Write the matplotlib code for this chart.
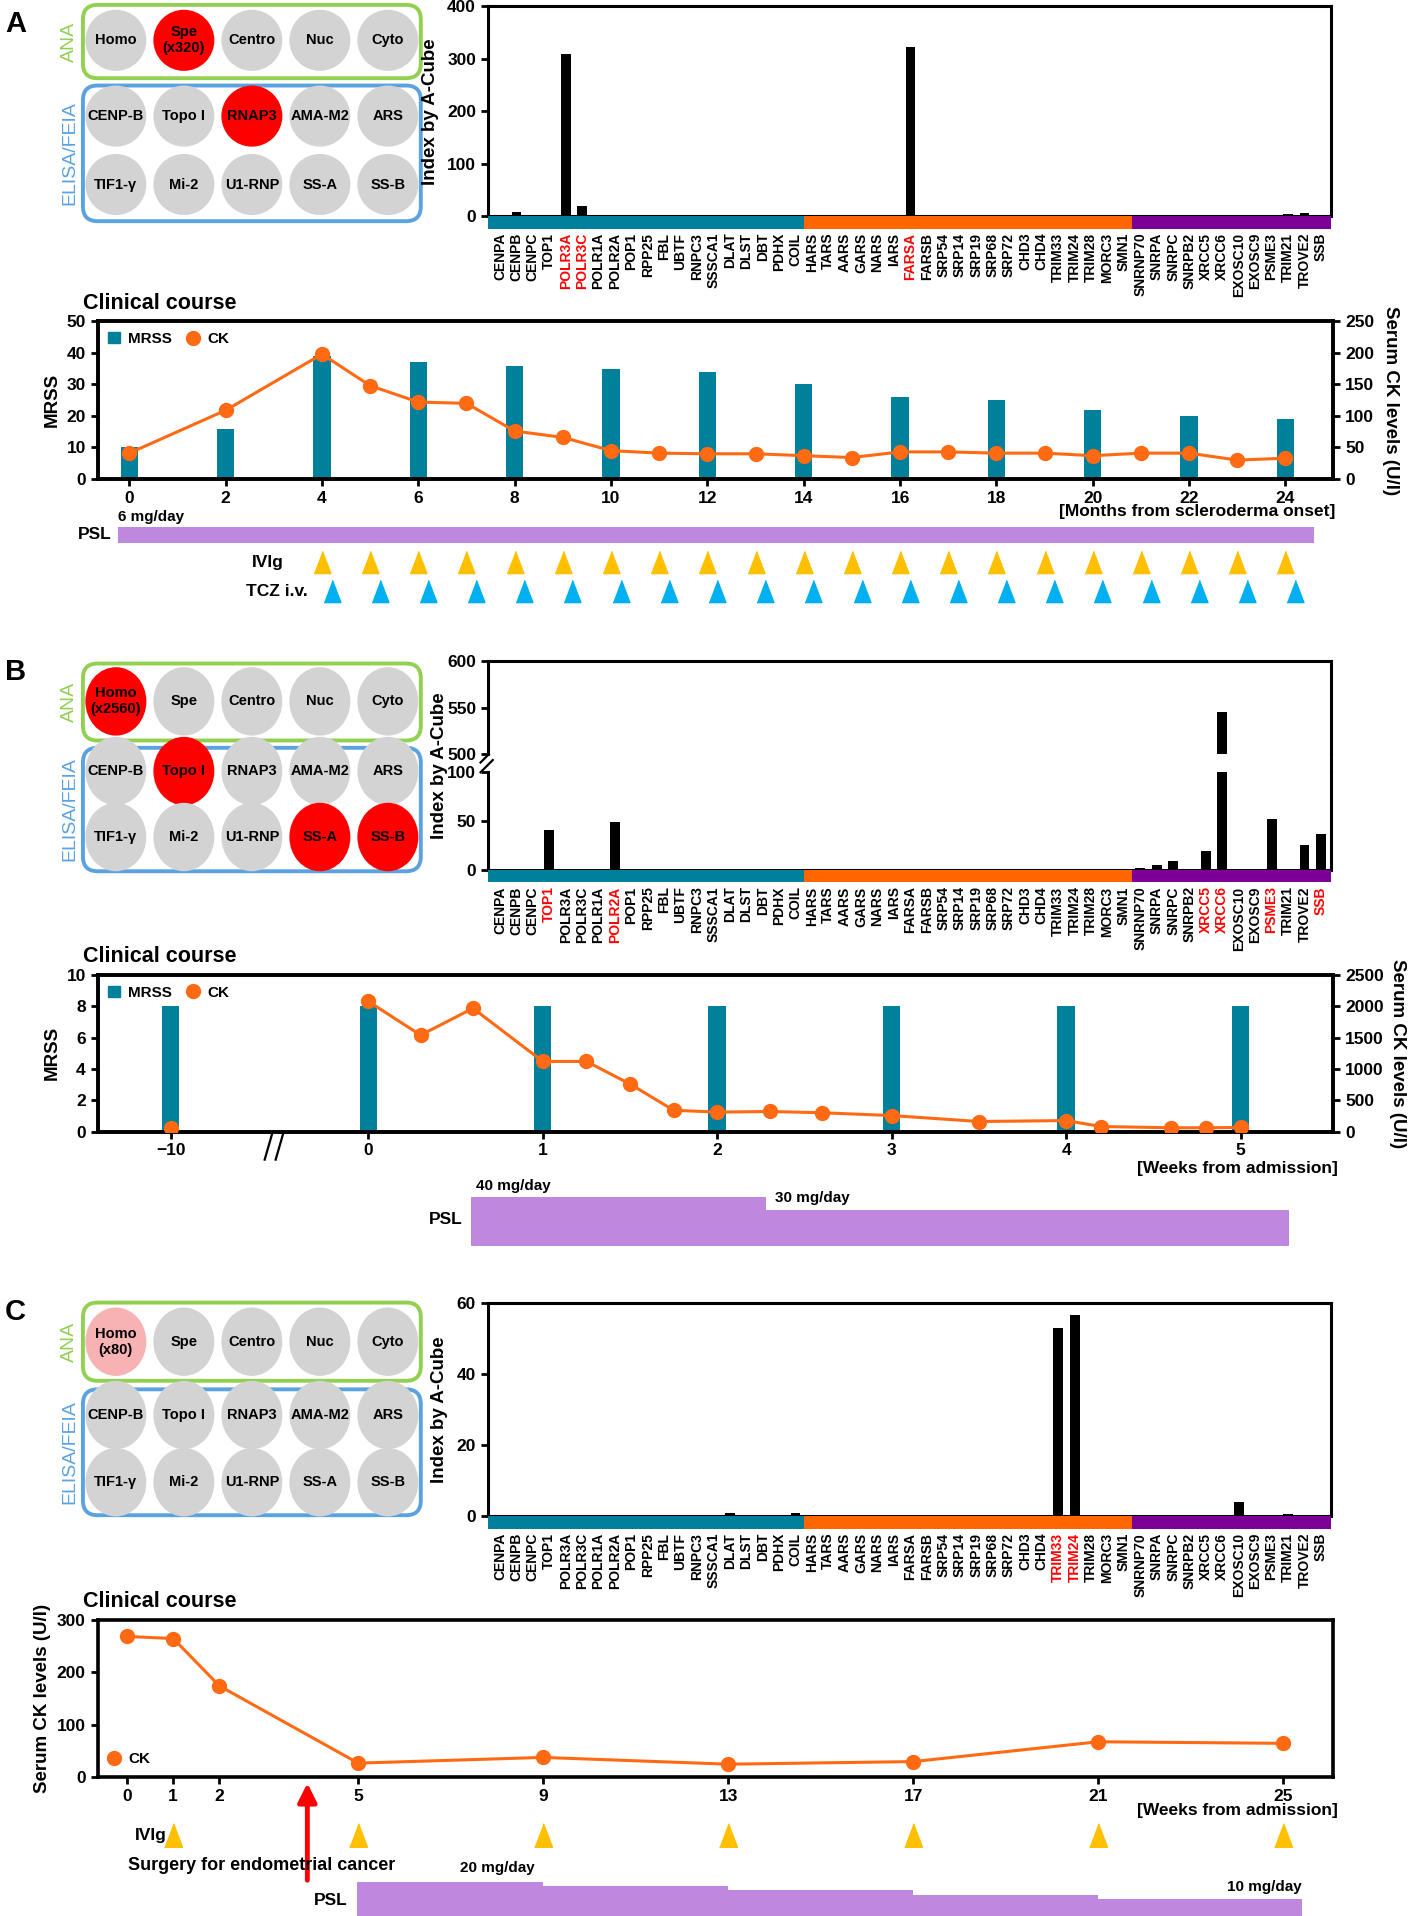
import numpy as np
import matplotlib.pyplot as plt
from matplotlib.patches import FancyBboxPatch, Ellipse, Patch
from matplotlib.lines import Line2D

plt.rcParams['font.family'] = ['Liberation Sans', 'DejaVu Sans']
plt.rcParams['font.weight'] = 'bold'
plt.rcParams['axes.labelweight'] = 'bold'

# ---------------- data ----------------
genes = ['CENPA', 'CENPB', 'CENPC', 'TOP1', 'POLR3A', 'POLR3C', 'POLR1A', 'POLR2A',
         'POP1', 'RPP25', 'FBL', 'UBTF', 'RNPC3', 'SSSCA1', 'DLAT', 'DLST', 'DBT',
         'PDHX', 'COIL', 'HARS', 'TARS', 'AARS', 'GARS', 'NARS', 'IARS', 'FARSA',
         'FARSB', 'SRP54', 'SRP14', 'SRP19', 'SRP68', 'SRP72', 'CHD3', 'CHD4',
         'TRIM33', 'TRIM24', 'TRIM28', 'MORC3', 'SMN1', 'SNRNP70', 'SNRPA', 'SNRPC',
         'SNRPB2', 'XRCC5', 'XRCC6', 'EXOSC10', 'EXOSC9', 'PSME3', 'TRIM21', 'TROVE2', 'SSB']
group_sizes = [19, 20, 12]

ana_names = ['Homo', 'Spe', 'Centro', 'Nuc', 'Cyto']
elisa_names = [['CENP-B', 'Topo I', 'RNAP3', 'AMA-M2', 'ARS'],
               ['TIF1-γ', 'Mi-2', 'U1-RNP', 'SS-A', 'SS-B']]

# panel A
a_ana_pos = {'Spe': 'x320'}
a_elisa_pos = ['RNAP3']
a_hit_genes = ['CENPB', 'POLR3A', 'POLR3C', 'FARSA', 'FARSB', 'TRIM21', 'TROVE2']
a_hit_index = [9, 308, 20, 322, 2.5, 4.4, 5.7]
a_red_genes = ['POLR3A', 'POLR3C', 'FARSA']
a_mrss_months = [0, 2, 4, 6, 8, 10, 12, 14, 16, 18, 20, 22, 24]
a_mrss = [10, 16, 39, 37, 36, 35, 34, 30, 26, 25, 22, 20, 19]
a_ck_months = [0, 2, 4, 5, 6, 7, 8, 9, 10, 11, 12, 13, 14, 15, 16, 17, 18, 19, 20, 21, 22, 23, 24]
a_ck = [41, 109, 198, 148, 122, 120, 76, 66, 45, 41, 40, 40, 37, 34, 43, 43, 41, 41, 37, 41, 41, 30, 33]
a_psl_edges = [-0.24, 24.6]
a_psl_dose = [6]
a_ivig = [4, 5, 6, 7, 8, 9, 10, 11, 12, 13, 14, 15, 16, 17, 18, 19, 20, 21, 22, 23, 24]
a_tcz = [4.2, 5.2, 6.2, 7.2, 8.2, 9.2, 10.2, 11.2, 12.2, 13.2, 14.2, 15.2, 16.2, 17.2,
         18.2, 19.2, 20.2, 21.2, 22.2, 23.2, 24.2]

# panel B
b_ana_pos = {'Homo': 'x2560'}
b_elisa_pos = ['Topo I', 'SS-A', 'SS-B']
b_hit_genes = ['TOP1', 'POLR2A', 'SNRNP70', 'SNRPA', 'SNRPC', 'XRCC5', 'XRCC6', 'PSME3', 'TROVE2', 'SSB']
b_hit_index = [41, 49, 2.5, 5, 9.5, 19, 545, 52, 26, 37]
b_red_genes = ['TOP1', 'POLR2A', 'XRCC5', 'XRCC6', 'PSME3', 'SSB']
b_mrss_weeks = [-10, 0, 1, 2, 3, 4, 5]
b_mrss = [8, 8, 8, 8, 8, 8, 8]
b_ck_pre_week = -10
b_ck_pre = 60
b_ck_weeks = [0, 0.3, 0.6, 1, 1.25, 1.5, 1.75, 2, 2.3, 2.6, 3, 3.5, 4, 4.2, 4.6, 4.8, 5]
b_ck = [2080, 1540, 1970, 1120, 1120, 760, 340, 310, 320, 300, 255, 160, 175, 80, 60, 60, 65]
b_psl_edges = [0.59, 2.28, 5.28]
b_psl_dose = [40, 30]

# panel C
c_ana_weak = {'Homo': 'x80'}
c_hit_genes = ['DLAT', 'COIL', 'FARSB', 'TRIM33', 'TRIM24', 'EXOSC10', 'TRIM21']
c_hit_index = [1.1, 1.0, 0.5, 53, 56.5, 4.0, 0.6]
c_red_genes = ['TRIM33', 'TRIM24']
c_ck_weeks = [0, 1, 2, 5, 9, 13, 17, 21, 25]
c_ck = [269, 265, 174, 26, 37, 24, 29, 67, 64]
c_ivig = [1, 5, 9, 13, 17, 21, 25]
c_surgery = 3.9
c_psl_edges = [4.97, 9, 13, 17, 21, 25.4]
c_psl_dose = [20, 17.8, 15, 12.4, 10]

# ---------------- style ----------------
TEAL = '#00809B'
STRIP = ['#00809B', '#FF6600', '#7A0096']
CK_COL = '#FF6A13'
PSL_COL = '#BF88DE'
IVIG_COL = '#FFC000'
TCZ_COL = '#00B0F0'
GREEN = '#92D050'
BLUE = '#5BA3E0'
GREY = '#D3D3D3'
TRI = [(-0.38, -0.5), (0.38, -0.5), (0, 0.5)]

W, H = 1156.0, 1568.0


def rect(x0, y0, x1, y1):
    return [x0 / W, 1 - y1 / H, (x1 - x0) / W, (y1 - y0) / H]


fig = plt.figure(figsize=(14.1, 19.16), dpi=100)
ov = fig.add_axes([0, 0, 1, 1])
ov.set_xlim(0, W)
ov.set_ylim(H, 0)
ov.axis('off')


def antibody_panel(ana_box, elisa_box, rows_y, ry, ana_marks, elisa_pos, weak=False):
    x0, x1 = 68, 345
    for (t, b), col in [(ana_box, GREEN), (elisa_box, BLUE)]:
        ov.add_patch(FancyBboxPatch((x0, t), x1 - x0, b - t,
                                    boxstyle='round,pad=0,rounding_size=12',
                                    fc='none', ec=col, lw=2.8))
    ov.text(57, sum(ana_box) / 2, 'ANA', color=GREEN, rotation=90, fontsize=14,
            ha='center', va='center', fontweight='normal')
    ov.text(57, sum(elisa_box) / 2, 'ELISA/FEIA', color=BLUE, rotation=90, fontsize=14,
            ha='center', va='center', fontweight='normal')
    cols_x = np.linspace(x0 + 27, x1 - 27, 5)
    rows = [ana_names] + elisa_names
    for r, names in enumerate(rows):
        for c, nm in enumerate(names):
            fc = GREY
            label = nm
            if r == 0 and nm in ana_marks:
                fc = '#F7B3B3' if weak else '#FF0000'
                label = nm + '\n(' + ana_marks[nm] + ')'
            if r > 0 and nm in elisa_pos:
                fc = '#FF0000'
            ov.add_patch(Ellipse((cols_x[c], rows_y[r]), 50, 2 * ry, fc=fc, ec='none'))
            ov.text(cols_x[c], rows_y[r], label, ha='center', va='center', fontsize=10.5,
                    linespacing=1.2)


def gene_strip(top, bot):
    s = fig.add_axes(rect(400, top, 1091, bot))
    edges = np.concatenate([[-0.74], np.cumsum(group_sizes)[:-1] - 0.5, [50.6]])
    for i, col in enumerate(STRIP):
        s.axvspan(edges[i], edges[i + 1], color=col, lw=0)
    s.set_xlim(-0.74, 50.6)
    s.set_ylim(0, 1)
    s.set_yticks([])
    s.set_xticks(range(len(genes)))
    for sp in s.spines.values():
        sp.set_visible(False)
    s.tick_params(axis='x', length=0, pad=3)
    return s


def label_genes(s, red):
    s.set_xticklabels(genes, rotation=90, fontsize=10)
    for t in s.get_xticklabels():
        if t.get_text() in red:
            t.set_color('#FF0000')


def index_vector(hit_genes, hit_vals):
    v = np.zeros(len(genes))
    for g, val in zip(hit_genes, hit_vals):
        v[genes.index(g)] = val
    return v


def style_bar_axes(ax):
    for sp in ax.spines.values():
        sp.set_linewidth(2.2)
    ax.set_xlim(-0.74, 50.6)
    ax.set_xticks([])
    ax.tick_params(axis='y', labelsize=12.5, width=2, length=5)


def style_clin(ax):
    for sp in ax.spines.values():
        sp.set_linewidth(2.6)
    ax.tick_params(labelsize=12.5, width=2, length=5)


def row_axes(y0, y1, xlim, ylim):
    r = fig.add_axes(rect(80, y0, 1093, y1))
    r.set_xlim(*xlim)
    r.set_ylim(*ylim)
    r.axis('off')
    return r


def ck_legend(ax, with_mrss=True, loc='upper left'):
    handles = [Line2D([], [], marker='o', color=CK_COL, ls='none', ms=10, label='CK')]
    if with_mrss:
        handles = [Patch(color=TEAL, label='MRSS')] + handles
    ax.legend(handles=handles, loc=loc, ncol=2, frameon=False, fontsize=11,
              handlelength=0.8, handletextpad=0.5, columnspacing=1.0, borderaxespad=0.3)


# ================= Panel A =================
ov.text(4, 20, 'A', fontsize=21, ha='left', va='center')
antibody_panel((4, 64), (70, 181), [33, 95, 151], 25, a_ana_pos, a_elisa_pos)

ax = fig.add_axes(rect(400, 5, 1091, 177))
ax.bar(np.arange(len(genes)), index_vector(a_hit_genes, a_hit_index), width=0.6, color='black')
ax.set_ylim(0, 400)
ax.set_yticks([0, 100, 200, 300, 400])
style_bar_axes(ax)
ax.set_ylabel('Index by A-Cube', fontsize=13.5, labelpad=6)
s = gene_strip(177, 187)
label_genes(s, a_red_genes)

fig.text(68 / W, 1 - 248 / H, 'Clinical course', fontsize=15.5, va='center')
xlim_a = (-0.658, 24.99)
axa = fig.add_axes(rect(80, 263, 1093, 392))
axa.bar(a_mrss_months, a_mrss, width=0.36, color=TEAL, zorder=2)
axa.set_xlim(*xlim_a)
axa.set_ylim(0, 50)
axa.set_yticks(range(0, 51, 10))
axa.set_xticks(range(0, 25, 2))
axa.set_ylabel('MRSS', fontsize=13.5, labelpad=4)
style_clin(axa)
axa2 = axa.twinx()
axa2.plot(a_ck_months, a_ck, '-o', color=CK_COL, ms=10, lw=2.2, zorder=3)
axa2.set_ylim(0, 250)
axa2.set_yticks(range(0, 251, 50))
axa2.set_ylabel('Serum CK levels (U/l)', fontsize=13.5, rotation=270, va='bottom', labelpad=6)
style_clin(axa2)
ck_legend(axa2)
fig.text(1095 / W, 1 - 419 / H, '[Months from scleroderma onset]', fontsize=12.5,
         ha='right', va='center')

rp = row_axes(418, 444, xlim_a, (0, 12))
rp.fill_between(a_psl_edges, a_psl_dose * 2, step='post', color=PSL_COL, lw=0)
rp.text(a_psl_edges[0], 7, '6 mg/day', fontsize=11, ha='left', va='bottom')
rp.text(a_psl_edges[0] - 0.12, 3, 'PSL', fontsize=12.5, ha='right', va='center')
rt = row_axes(448, 496, xlim_a, (-0.5, 1.5))
rt.plot(a_ivig, [1] * len(a_ivig), ls='none', marker=TRI, ms=16, color=IVIG_COL)
rt.plot(a_tcz, [0] * len(a_tcz), ls='none', marker=TRI, ms=16, color=TCZ_COL)
rt.text(3.2, 1, 'IVIg', fontsize=12.5, ha='right', va='center')
rt.text(3.7, 0, 'TCZ i.v.', fontsize=12.5, ha='right', va='center')

# ================= Panel B =================
ov.text(4, 550, 'B', fontsize=21, ha='left', va='center')
antibody_panel((543, 606), (612, 713), [574, 631, 685], 28, b_ana_pos, b_elisa_pos)

b_vals = index_vector(b_hit_genes, b_hit_index)
bu = fig.add_axes(rect(400, 541, 1091, 617))
bu.bar(np.arange(len(genes)), b_vals, width=0.6, color='black')
bu.set_ylim(500, 600)
bu.set_yticks([500, 550, 600])
style_bar_axes(bu)
bu.spines['bottom'].set_visible(False)
bl = fig.add_axes(rect(400, 632, 1091, 712))
bl.bar(np.arange(len(genes)), b_vals, width=0.6, color='black')
bl.set_ylim(0, 100)
bl.set_yticks([0, 50, 100])
style_bar_axes(bl)
bl.spines['top'].set_visible(False)
ov.plot([1091, 1091], [617, 632], color='black', lw=2.2)
ov.plot([394, 404], [624, 614], color='black', lw=1.6)
ov.plot([394, 404], [632, 622], color='black', lw=1.6)
ov.text(360, 627, 'Index by A-Cube', fontsize=13.5, rotation=90, ha='center', va='center')
s = gene_strip(712, 722)
label_genes(s, b_red_genes)

fig.text(68 / W, 1 - 783 / H, 'Clinical course', fontsize=15.5, va='center')
xlim_b = (-1.552, 5.531)
b_break_pos = -1.133


def b_pos(w):
    return w if w >= 0 else b_break_pos


axb = fig.add_axes(rect(80, 798, 1093, 926))
axb.bar([b_pos(w) for w in b_mrss_weeks], b_mrss, width=0.1, color=TEAL, zorder=2)
axb.set_xlim(*xlim_b)
axb.set_ylim(0, 10)
axb.set_yticks(range(0, 11, 2))
axb.set_xticks([b_pos(w) for w in [-10, 0, 1, 2, 3, 4, 5]])
axb.set_xticklabels(['\u221210', '0', '1', '2', '3', '4', '5'])
axb.set_ylabel('MRSS', fontsize=13.5, labelpad=4)
style_clin(axb)
axb2 = axb.twinx()
axb2.plot([b_pos(b_ck_pre_week)], [b_ck_pre], 'o', color=CK_COL, ms=10, zorder=3)
axb2.plot(b_ck_weeks, b_ck, '-o', color=CK_COL, ms=10, lw=2.2, zorder=3)
axb2.set_ylim(0, 2500)
axb2.set_yticks(range(0, 2501, 500))
axb2.set_ylabel('Serum CK levels (U/l)', fontsize=13.5, rotation=270, va='bottom', labelpad=4)
style_clin(axb2)
ck_legend(axb2)
ov.plot([217, 228], [949, 911], color='black', lw=1.6)
ov.plot([226, 237], [949, 911], color='black', lw=1.6)
fig.text(1097 / W, 1 - 956 / H, '[Weeks from admission]', fontsize=12.5, ha='right', va='center')

rb = row_axes(960, 1020, xlim_b, (0, 60))
rb.fill_between(b_psl_edges, b_psl_dose + [b_psl_dose[-1]], step='post', color=PSL_COL, lw=0)
rb.text(b_psl_edges[0] + 0.03, b_psl_dose[0] + 4, '40 mg/day', fontsize=11, ha='left', va='bottom')
rb.text(b_psl_edges[1] + 0.05, b_psl_dose[1] + 4, '30 mg/day', fontsize=11, ha='left', va='bottom')
rb.text(b_psl_edges[0] - 0.05, 22, 'PSL', fontsize=12.5, ha='right', va='center')

# ================= Panel C =================
ov.text(4, 1074, 'C', fontsize=21, ha='left', va='center')
antibody_panel((1066, 1130), (1137, 1240), [1098, 1158, 1213], 28, c_ana_weak, [], weak=True)

ax = fig.add_axes(rect(400, 1066, 1091, 1241))
ax.bar(np.arange(len(genes)), index_vector(c_hit_genes, c_hit_index), width=0.6, color='black')
ax.set_ylim(0, 60)
ax.set_yticks([0, 20, 40, 60])
style_bar_axes(ax)
ax.set_ylabel('Index by A-Cube', fontsize=13.5, labelpad=6)
s = gene_strip(1241, 1251)
label_genes(s, c_red_genes)

fig.text(68 / W, 1 - 1311 / H, 'Clinical course', fontsize=15.5, va='center')
xlim_c = (-0.636, 26.08)
axc = fig.add_axes(rect(80, 1326, 1093, 1454))
axc.plot(c_ck_weeks, c_ck, '-o', color=CK_COL, ms=10, lw=2.2)
axc.set_xlim(*xlim_c)
axc.set_ylim(0, 300)
axc.set_yticks([0, 100, 200, 300])
axc.set_xticks(c_ck_weeks)
axc.set_ylabel('Serum CK levels (U/l)', fontsize=13.5, labelpad=4)
style_clin(axc)
ck_legend(axc, with_mrss=False, loc='lower left')
fig.text(1097 / W, 1 - 1482 / H, '[Weeks from admission]', fontsize=12.5, ha='right', va='center')
axc.annotate('', xy=(c_surgery, 1 - 1457 / H), xycoords=('data', 'figure fraction'),
             xytext=(c_surgery, 1 - 1541 / H), textcoords=('data', 'figure fraction'),
             arrowprops=dict(arrowstyle='-|>', color='#FF0000', lw=3.5, mutation_scale=28))
fig.text(105 / W, 1 - 1527 / H, 'Surgery for endometrial cancer', fontsize=13, va='center')

ri = row_axes(1490, 1514, xlim_c, (0, 1))
ri.plot(c_ivig, [0.5] * len(c_ivig), ls='none', marker=TRI, ms=17, color=IVIG_COL)
ri.text(0.85, 0.5, 'IVIg', fontsize=12.5, ha='right', va='center')
rc = row_axes(1520, 1568, xlim_c, (0, 34.3))
rc.fill_between(c_psl_edges, c_psl_dose + [c_psl_dose[-1]], step='post', color=PSL_COL, lw=0)
rc.text(8.0, c_psl_dose[0] + 4, '20 mg/day', fontsize=11, ha='center', va='bottom')
rc.text(c_psl_edges[-1], c_psl_dose[-1] + 3, '10 mg/day', fontsize=11, ha='right', va='bottom')
rc.text(c_psl_edges[0] - 0.2, 9, 'PSL', fontsize=12.5, ha='right', va='center')

fig.savefig('out.png', dpi=100)
